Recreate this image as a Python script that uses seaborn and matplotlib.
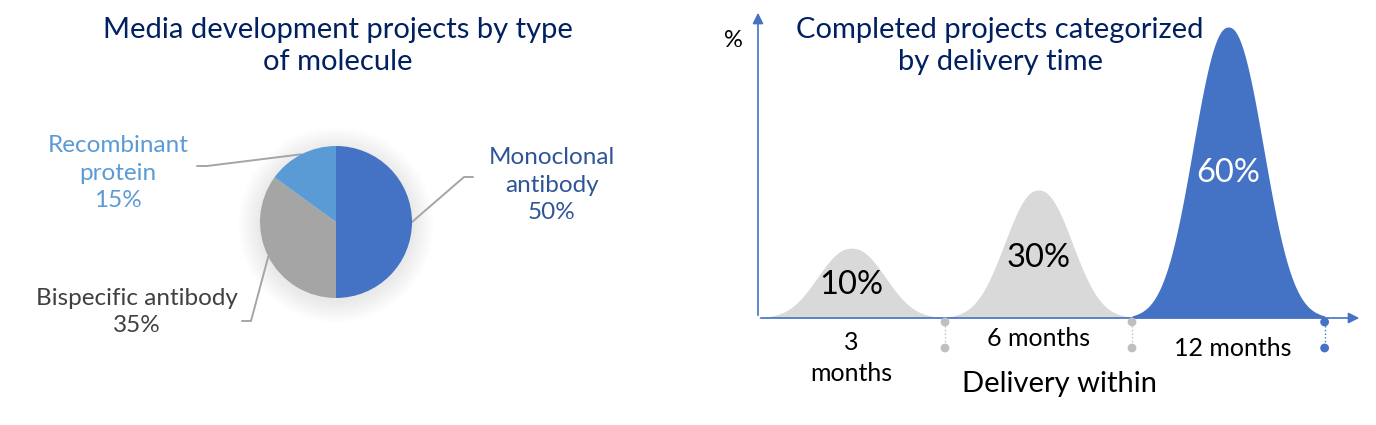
import numpy as np
import seaborn as sns
import matplotlib.pyplot as plt
from matplotlib.patches import Circle

# pie data
molecule_types = ["Monoclonal\nantibody", "Bispecific antibody", "Recombinant\nprotein"]
molecule_share = [50, 35, 15]
molecule_colors = ["#4472C4", "#A5A5A5", "#5B9BD5"]
label_colors = ["#2F5597", "#404040", "#5B9BD5"]

# delivery time data
delivery_labels = ["3\nmonths", "6 months", "12 months"]
delivery_share = [10, 30, 60]
hump_height = [14.4, 26.4, 60]  # drawn height of each hump
hump_scale = [0.24, 0.24, 0.25]
hump_colors = ["#D9D9D9", "#D9D9D9", "#4472C4"]
pct_colors = ["black", "black", "white"]
tick_colors = ["#BFBFBF", "#BFBFBF", "#4472C4"]

NAVY = "#002060"
AX_BLUE = "#4472C4"

sns.set_theme(style="white")
plt.rcParams["font.family"] = ["Lato", "DejaVu Sans"]

W, H = 1376, 425
fig = plt.figure(figsize=(W / 100, H / 100), dpi=100)

# ---------- left: pie ----------
ax1 = fig.add_axes([0, 0, 700 / W, 1])

cx, cy, r = 336, H - 222, 76
# soft shadow
for k in range(22):
    ax1.add_patch(Circle((cx, cy - 3), r + 22 - k, color="black", alpha=0.005, lw=0, zorder=1))

wedges, _ = ax1.pie(molecule_share, colors=molecule_colors, startangle=90, counterclock=False,
                    center=(cx, cy), radius=r, frame=True,
                    wedgeprops=dict(linewidth=0, zorder=3))
ax1.set_xlim(0, 700)
ax1.set_ylim(0, H)
ax1.set_aspect("equal")
ax1.axis("off")

# leader lines from wedge midpoints
elbows = [(464, 177, 473), (251, 321, 242), (207, 166, 197)]
label_pos = [(552, 185), (137, 312), (118, 173)]
for w, (ex, ey, hx), (tx, ty), txt, tc, val in zip(wedges, elbows, label_pos, molecule_types,
                                                  label_colors, molecule_share):
    ang = np.deg2rad((w.theta1 + w.theta2) / 2)
    px, py = cx + r * np.cos(ang), cy + r * np.sin(ang)
    ax1.plot([px, ex, hx], [py, H - ey, H - ey], color="#A5A5A5", lw=1.4, zorder=2)
    ax1.text(tx, H - ty, f"{txt}\n{val}%", ha="center", va="center", color=tc,
             fontsize=17.5, linespacing=1.4)

fig.text(338 / W, 1 - 46 / H, "Media development projects by type\nof molecule", ha="center",
         va="center", color=NAVY, fontsize=21, linespacing=1.3)

# ---------- right: delivery humps ----------
ax2 = fig.add_axes([740 / W, 0, (W - 740) / W, 1])
unit = 187.0
yscale = 291 / 60

for i, (h, a, c) in enumerate(zip(hump_height, hump_scale, hump_colors)):
    lo, hi = (i, i + 1) if i < 2 else (i, i + 1.03)
    mid = (lo + hi) / 2
    x = np.linspace(lo, hi, 400)
    y = h * np.exp(-np.abs((x - mid) / a) ** 2.2)
    ax2.fill_between(x, 0, y, color=c, lw=0, zorder=2)
    ax2.text(mid, h * 0.47 if i < 2 else h * 0.5, f"{delivery_share[i]}%", ha="center", va="center",
             color=pct_colors[i], fontsize=23.5, zorder=4)

# axes arrows
x_end = (1362 - 758) / unit
y_top = 318 / yscale - 10 / yscale
ax2.annotate("", xy=(x_end, 0), xytext=(0, 0),
             arrowprops=dict(arrowstyle="-|>", color=AX_BLUE, lw=1.2, mutation_scale=16), zorder=3)
ax2.annotate("", xy=(0, y_top), xytext=(0, 0),
             arrowprops=dict(arrowstyle="-|>", color=AX_BLUE, lw=1.2, mutation_scale=16), zorder=3)
ax2.text((733 - 758) / unit, (318 - 40) / yscale, "%", ha="center", va="center", fontsize=17,
         color="black", clip_on=False)

# boundary ticks: dot pairs with dotted connector
bounds = [1, 2, 3.03]
y_hi, y_lo = -(322 - 318) / yscale, -(348 - 318) / yscale
for b, c in zip(bounds, tick_colors):
    ax2.plot([b, b], [y_hi, y_lo], color=c, lw=1, ls=":", zorder=3)
sns.scatterplot(x=bounds * 2, y=[y_hi] * 3 + [y_lo] * 3, hue=list(range(3)) * 2,
                palette=tick_colors, s=40, linewidth=0, legend=False, ax=ax2, zorder=4)
ax2.set_xlim((740 - 758) / unit, (W - 758) / unit)
ax2.set_ylim(-(H - 318) / yscale, 318 / yscale)
ax2.axis("off")

tick_y = [358, 338, 348]
for i, (lab, ty) in enumerate(zip(delivery_labels, tick_y)):
    mid = i + 0.5 if i < 2 else i + 0.54
    ax2.text(mid, -(ty - 318) / yscale, lab, ha="center", va="center", fontsize=18,
             color="black", linespacing=1.45)
ax2.text((1060 - 758) / unit, -(384 - 318) / yscale, "Delivery within", ha="center", va="center",
         fontsize=21, color="black")

fig.text(1000 / W, 1 - 46 / H, "Completed projects categorized\nby delivery time", ha="center",
         va="center", color=NAVY, fontsize=21, linespacing=1.3)

fig.savefig("out.png", dpi=100, facecolor="white")
